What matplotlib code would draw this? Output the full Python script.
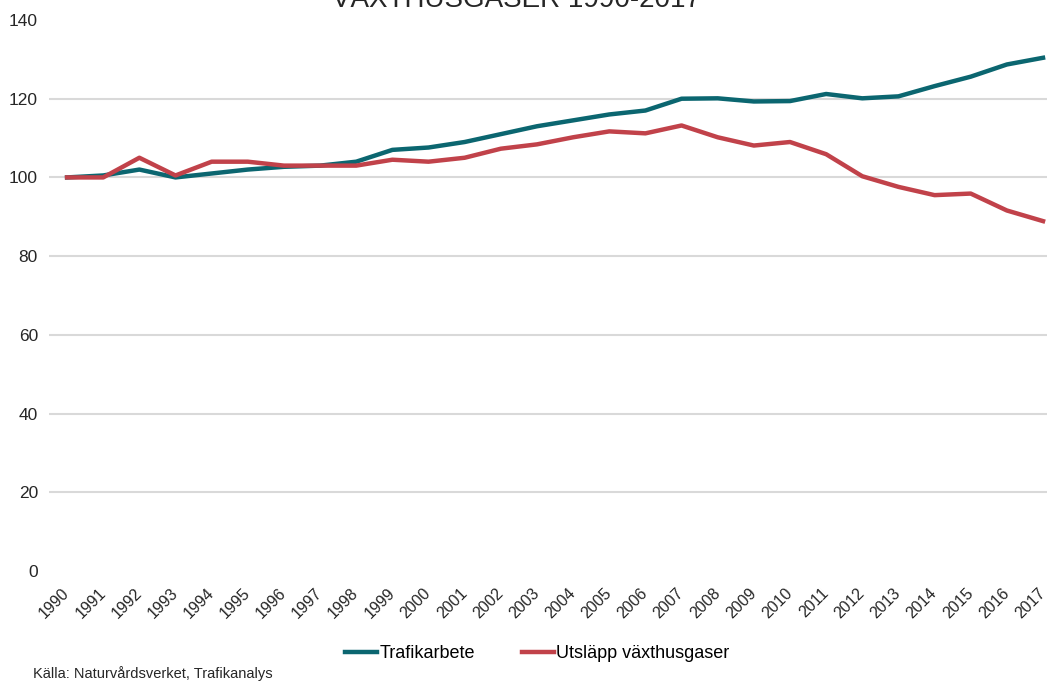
import matplotlib.pyplot as plt
import matplotlib.transforms as mtransforms

plt.rcParams['font.family'] = ['Liberation Sans', 'DejaVu Sans']

years = list(range(1990, 2018))
trafikarbete = [100, 100.5, 102, 100, 101, 102, 102.7, 103, 104, 107, 107.6, 109, 111, 113,
                114.5, 116, 117, 120, 120.1, 119.3, 119.4, 121.2, 120.1, 120.6, 123.2, 125.6,
                128.7, 130.4]
utslapp = [100, 100, 105, 100.5, 104, 104, 103, 103, 103, 104.5, 104, 105, 107.3, 108.4,
           110.2, 111.7, 111.2, 113.2, 110.2, 108.1, 109, 105.9, 100.3, 97.6, 95.5, 95.9,
           91.6, 88.9]
yticks = [0, 20, 40, 60, 80, 100, 120, 140]

teal = "#0b6670"
red = "#c1424a"

fig = plt.figure(figsize=(10.47, 6.82), dpi=100)
ax = fig.add_axes([49 / 1047, 111 / 682, 998 / 1047, 551 / 682])

ax.plot(years, trafikarbete, color=teal, linewidth=3.2, label="Trafikarbete", zorder=3)
ax.plot(years, utslapp, color=red, linewidth=3.2, label="Utsläpp växthusgaser", zorder=3)

ax.set_xlim(1989.5, 2017.11)
ax.set_ylim(0, 140)
ax.set_yticks(yticks)
for v in yticks[1:-1]:
    ax.axhline(v, color="#d9d9d9", linewidth=1.5, zorder=1)

ax.set_xticks(years)
ax.set_xticklabels([str(y) for y in years], rotation=45, ha="right", va="center",
                   rotation_mode="anchor", fontsize=11.5, color="#262626")
shift = mtransforms.ScaledTranslation(0.05, 0, fig.dpi_scale_trans)
for lab in ax.get_xticklabels():
    lab.set_transform(lab.get_transform() + shift)
ax.tick_params(axis="x", length=0, pad=14)
ax.tick_params(axis="y", length=0, pad=8, labelsize=12.5, labelcolor="#262626")
for s in ax.spines.values():
    s.set_visible(False)

# titeln är avskuren upptill i förlagan
fig.text(516 / 1047, 1 - 7 / 682, "VÄXTHUSGASER 1990-2017", ha="center", va="baseline",
         fontsize=20, color="#262626")

fig.legend(loc="center", bbox_to_anchor=(537 / 1047, 1 - 654 / 682), ncol=2, frameon=False,
           fontsize=13, handlelength=1.8, handletextpad=0.1, columnspacing=2.6)

fig.text(33 / 1047, 1 - 674 / 682, "Källa: Naturvårdsverket, Trafikanalys", ha="left",
         va="center", fontsize=10.5, color="#262626")

fig.savefig("out.png", dpi=100)
